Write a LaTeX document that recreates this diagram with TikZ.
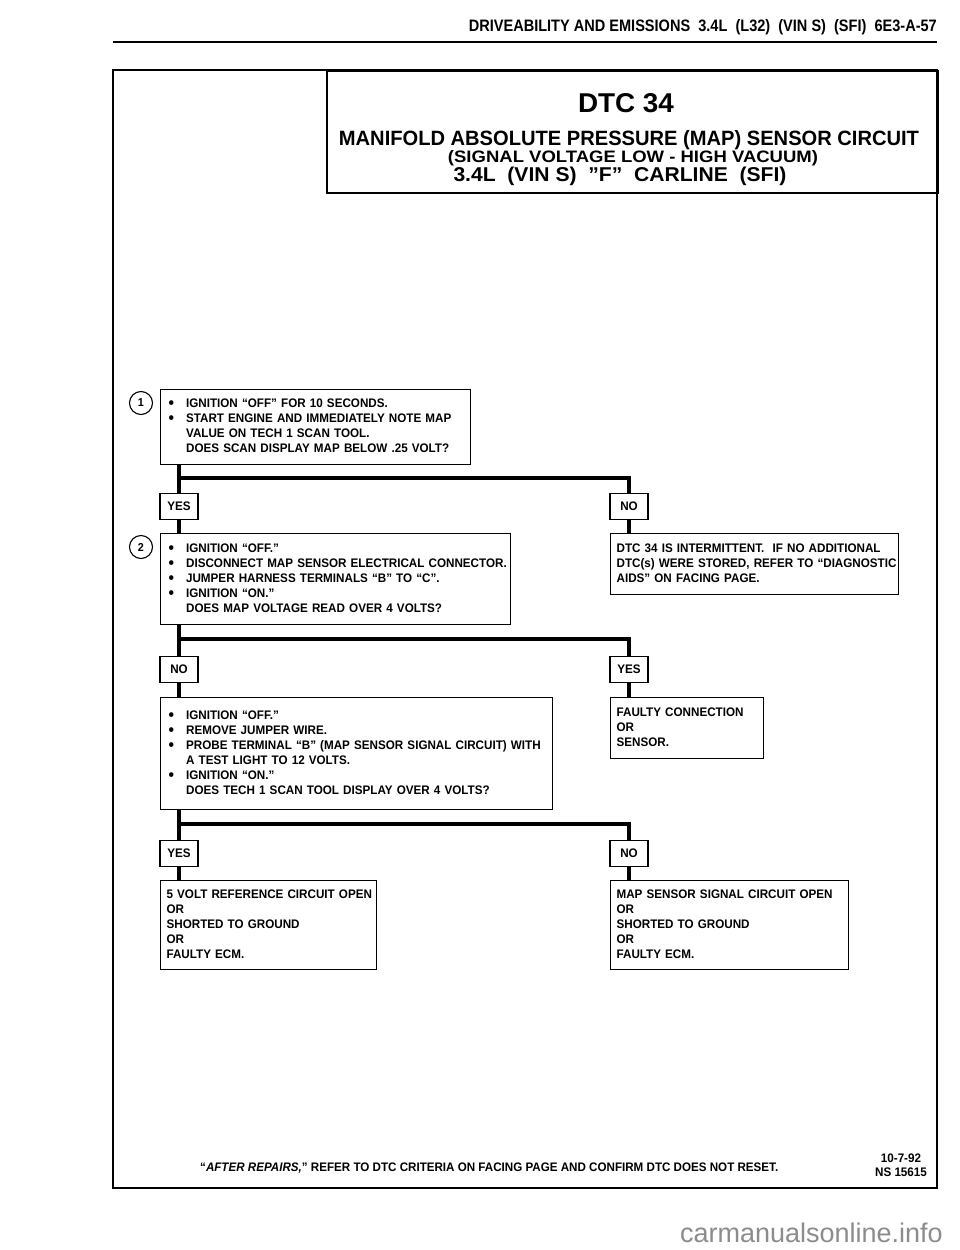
\documentclass[tikz,border=0pt]{standalone}
\usepackage{fontspec}
\usepackage{graphicx}
\setmainfont{Liberation Sans}[FakeStretch=0.94]
\newfontfamily\wmfont{Liberation Sans}
\newcommand\bfnt{\bfseries\fontsize{12.4}{15}\selectfont}
\newcommand\bu{\makebox[17.5pt][l]{\raisebox{-0.9pt}{\fontsize{16.5}{15}\selectfont •}}}
\newcommand\nb{\hspace*{17.5pt}}
\begin{document}
\begin{tikzpicture}[x=1pt,y=-1pt,
  box/.style={draw,line width=1.2pt,anchor=north west,inner ysep=0pt,align=left,font=\bfnt},
  bbox/.style={box,inner xsep=8pt},
  pbox/.style={box,inner xsep=6pt},
  lab/.style={draw,line width=1.2pt,anchor=north,minimum width=38pt,minimum height=26pt,inner sep=0pt,font=\bfnt},
  conn/.style={line width=4pt},
  num/.style={draw,circle,line width=1.1pt,minimum size=23pt,inner sep=0pt,font=\bfseries\fontsize{11.5}{11.5}\selectfont},
  ttl/.style={anchor=base,inner sep=0pt}]
\useasboundingbox (0,0) rectangle (960,1250);
\fill[white] (0,0) rectangle (960,1250);

% header
\node[anchor=base east,inner sep=0pt] (hdr) at (937,31) {\resizebox{468pt}{12pt}{\bfseries DRIVEABILITY AND EMISSIONS\ \ 3.4L\ \ (L32)\ \ (VIN S)\ \ (SFI)\ \ 6E3-A-57}};
\draw[line width=2.5pt] (113,42) -- (937,42);

% frame and title box
\draw[line width=2.7pt] (113,70) rectangle (937,1188);
\node[draw,line width=1.5pt,anchor=north west,minimum width=611pt,minimum height=122pt,inner sep=0pt] (tb) at (326,70) {};
\node[ttl] (t1) at (626,112) {\resizebox{96pt}{19pt}{\bfseries DTC 34}};
\node[ttl] (t2) at (629,145) {\resizebox{580pt}{15pt}{\bfseries MANIFOLD ABSOLUTE PRESSURE (MAP) SENSOR CIRCUIT}};
\node[ttl] (t3) at (633,162) {\resizebox{370pt}{12pt}{\bfseries (SIGNAL VOLTAGE LOW - HIGH VACUUM)}};
\node[ttl] (t4) at (620,181) {\resizebox{333pt}{14.5pt}{\bfseries 3.4L\ \ (VIN S)\ \ ”F”\ \ CARLINE\ \ (SFI)}};

% step 1
\node[num] (n1) at (141,403) {1};
\node[bbox,minimum width=310pt,minimum height=75pt,text width=294pt] (b1) at (160,389)
 {\noindent\begin{tabular}{@{}l@{}}
 \bu IGNITION “OFF” FOR 10 SECONDS.\\
 \bu START ENGINE AND IMMEDIATELY NOTE MAP\\
 \nb VALUE ON TECH 1 SCAN TOOL.\\
 \nb DOES SCAN DISPLAY MAP BELOW .25 VOLT?
 \end{tabular}};
\coordinate (j1) at (179,478);
\node[lab] (l1) at (179,493) {YES};
\node[lab] (r1) at (629,493) {NO};

% step 2
\node[num] (n2) at (141,547) {2};
\node[bbox,minimum width=350pt,minimum height=91pt,text width=334pt] (b2) at (160,533)
 {\noindent\begin{tabular}{@{}l@{}}
 \bu IGNITION “OFF.”\\
 \bu DISCONNECT MAP SENSOR ELECTRICAL CONNECTOR.\\
 \bu JUMPER HARNESS TERMINALS “B” TO “C”.\\
 \bu IGNITION “ON.”\\
 \nb DOES MAP VOLTAGE READ OVER 4 VOLTS?
 \end{tabular}};
\node[pbox,minimum width=288pt,minimum height=61pt,text width=276pt] (rb1) at (610,533)
 {\noindent\begin{tabular}{@{}l@{}}
 DTC 34 IS INTERMITTENT.\ \ IF NO ADDITIONAL\\
 DTC(s) WERE STORED, REFER TO “DIAGNOSTIC\\
 AIDS” ON FACING PAGE.
 \end{tabular}};
\coordinate (j2) at (179,639);
\node[lab] (l2) at (179,656) {NO};
\node[lab] (r2) at (629,656) {YES};

% step 3
\node[bbox,minimum width=392pt,minimum height=112pt,text width=376pt] (b3) at (160,697)
 {\noindent\begin{tabular}{@{}l@{}}
 \bu IGNITION “OFF.”\\
 \bu REMOVE JUMPER WIRE.\\
 \bu PROBE TERMINAL “B” (MAP SENSOR SIGNAL CIRCUIT) WITH\\
 \nb A TEST LIGHT TO 12 VOLTS.\\
 \bu IGNITION “ON.”\\
 \nb DOES TECH 1 SCAN TOOL DISPLAY OVER 4 VOLTS?
 \end{tabular}};
\node[pbox,minimum width=153pt,minimum height=61pt,text width=141pt] (rb2) at (610,697)
 {\noindent\begin{tabular}{@{}l@{}}
 FAULTY CONNECTION\\
 OR\\
 SENSOR.
 \end{tabular}};
\coordinate (j3) at (179,824);
\node[lab] (l3) at (179,840) {YES};
\node[lab] (r3) at (629,840) {NO};

% results
\node[pbox,minimum width=216pt,minimum height=89pt,text width=204pt] (b4) at (160,880)
 {\noindent\begin{tabular}{@{}l@{}}
 5 VOLT REFERENCE CIRCUIT OPEN\\
 OR\\
 SHORTED TO GROUND\\
 OR\\
 FAULTY ECM.
 \end{tabular}};
\node[pbox,minimum width=238pt,minimum height=89pt,text width=226pt] (rb3) at (610,880)
 {\noindent\begin{tabular}{@{}l@{}}
 MAP SENSOR SIGNAL CIRCUIT OPEN\\
 OR\\
 SHORTED TO GROUND\\
 OR\\
 FAULTY ECM.
 \end{tabular}};

% connectors
\draw[conn] (b1.south -| l1.north) -- (l1.north);
\draw[conn] (l1.north |- j1) -| (r1.north);
\draw[conn] (l1.south) -- (l1.south |- b2.north);
\draw[conn] (r1.south) -- (r1.south |- rb1.north);

\draw[conn] (b2.south -| l2.north) -- (l2.north);
\draw[conn] (l2.north |- j2) -| (r2.north);
\draw[conn] (l2.south) -- (l2.south |- b3.north);
\draw[conn] (r2.south) -- (r2.south |- rb2.north);

\draw[conn] (b3.south -| l3.north) -- (l3.north);
\draw[conn] (l3.north |- j3) -| (r3.north);
\draw[conn] (l3.south) -- (l3.south |- b4.north);
\draw[conn] (r3.south) -- (r3.south |- rb3.north);

% footer
\node[anchor=base west,inner sep=0pt] (ft) at (200,1171) {\resizebox{578pt}{!}{\bfseries “\textit{AFTER REPAIRS,}” REFER TO DTC CRITERIA ON FACING PAGE AND CONFIRM DTC DOES NOT RESET.}};
\node[anchor=base,inner sep=0pt,font=\bfnt] (d1) at (901,1162) {10-7-92};
\node[anchor=base,inner sep=0pt,font=\bfnt] (d2) at (901,1176) {NS 15615};

% watermark
\node[anchor=base east,inner sep=0pt,text=black!45,font=\wmfont\fontsize{27}{27}\selectfont] (wm) at (943,1242) {carmanualsonline.info};
\end{tikzpicture}
\end{document}
